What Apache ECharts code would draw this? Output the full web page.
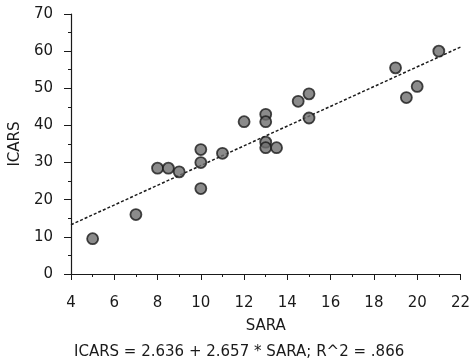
<!DOCTYPE html>
<html>
<head>
<meta charset="utf-8">
<script src="https://cdn.jsdelivr.net/npm/echarts@6/dist/echarts.min.js"></script>
<style>
  html, body { margin: 0; padding: 0; background: #fff; }
  #chart { width: 473px; height: 362px; }
</style>
</head>
<body>
<div id="chart"></div>
<script>
// SARA score (x) and ICARS score (y) per patient
var sara  = [5, 7, 8, 8.5, 9, 10, 10, 10, 11, 12, 13, 13, 13, 13, 13.5, 14.5, 15, 15, 19, 19.5, 20, 21];
var icars = [9.5, 16, 28.5, 28.5, 27.5, 33.5, 30, 23, 32.5, 41, 43, 41, 35.5, 34, 34, 46.5, 48.5, 42, 55.5, 47.5, 50.5, 60];

// regression: ICARS = a + b * SARA
var fitIntercept = 2.636;
var fitSlope = 2.657;
var fitR2 = '.866';
var xRange = [4, 22];
var yRange = [0, 70];

var font = 'DejaVu Sans';
var ink = '#1a1a1a';

var points = sara.map(function (s, i) { return [s, icars[i]]; });
var fitLine = xRange.map(function (x) { return [x, fitIntercept + fitSlope * x]; });

var chart = echarts.init(document.getElementById('chart'));
chart.setOption({
  animation: false,
  backgroundColor: '#fff',
  grid: { left: 71, right: 10, top: 14, bottom: 88 },
  xAxis: {
    type: 'value',
    min: xRange[0], max: xRange[1], interval: 2,
    name: 'SARA',
    nameLocation: 'middle',
    nameGap: 45,
    nameTextStyle: { fontFamily: font, fontSize: 15, color: ink },
    axisLine: { lineStyle: { color: ink, width: 1.2 } },
    axisTick: { length: 6, lineStyle: { color: ink } },
    minorTick: { show: true, splitNumber: 2, length: 3, lineStyle: { color: ink } },
    axisLabel: { margin: 22, fontFamily: font, fontSize: 15, color: ink },
    splitLine: { show: false }
  },
  yAxis: {
    type: 'value',
    min: yRange[0], max: yRange[1], interval: 10,
    name: 'ICARS',
    nameLocation: 'middle',
    nameGap: 43,
    nameTextStyle: { fontFamily: font, fontSize: 15, color: ink },
    axisLine: { show: true, lineStyle: { color: ink, width: 1.2 } },
    axisTick: { show: true, length: 7, lineStyle: { color: ink } },
    minorTick: { show: true, splitNumber: 2, length: 3, lineStyle: { color: ink } },
    axisLabel: { margin: 18, fontFamily: font, fontSize: 15, color: ink },
    splitLine: { show: false }
  },
  graphic: [{
    type: 'text',
    left: 74,
    top: 345,
    style: {
      text: 'ICARS = ' + fitIntercept + ' + ' + fitSlope + ' * SARA; R^2 = ' + fitR2,
      fontFamily: font, fontSize: 15, fill: ink
    }
  }],
  series: [{
    type: 'line',
    data: fitLine,
    symbol: 'none',
    lineStyle: { color: ink, width: 1.5, type: [3, 2] },
    z: 1
  }, {
    type: 'scatter',
    data: points,
    symbol: 'circle',
    symbolSize: 11,
    itemStyle: { color: '#6e6e6e', borderColor: '#1a1a1a', borderWidth: 1.8 },
    z: 2
  }]
});
</script>
</body>
</html>
